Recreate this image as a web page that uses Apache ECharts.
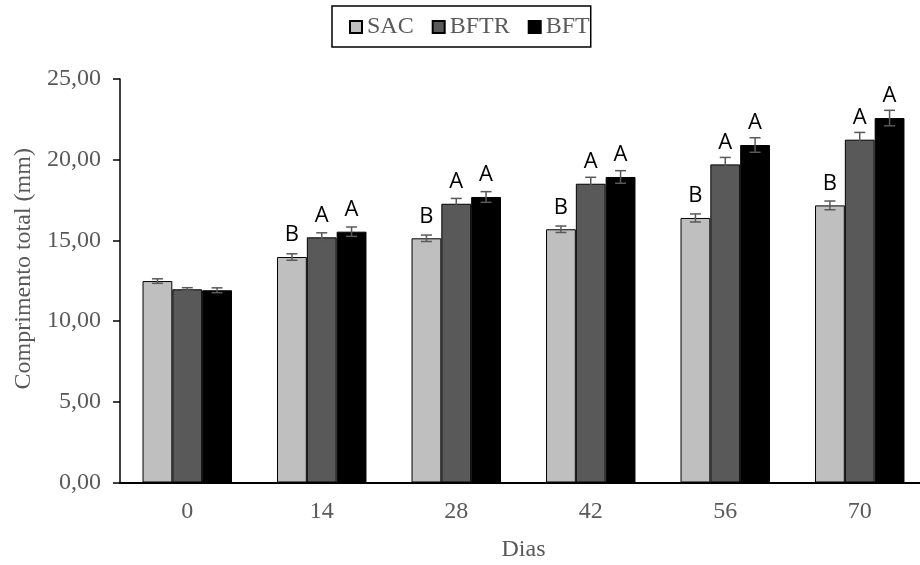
<!DOCTYPE html>
<html>
<head>
<meta charset="utf-8">
<script src="https://cdn.jsdelivr.net/npm/echarts@6/dist/echarts.min.js"></script>
<style>html,body{margin:0;padding:0;background:#fff}#c{width:920px;height:565px}</style>
</head>
<body>
<div id="c"></div>
<script>
var categories = ['0', '14', '28', '42', '56', '70'];
var seriesNames = ['SAC', 'BFTR', 'BFT'];
var sacValues = [12.48, 13.97, 15.13, 15.69, 16.39, 17.17];
var bftrValues = [11.97, 15.19, 17.27, 18.51, 19.71, 21.24];
var bftValues = [11.91, 15.54, 17.69, 18.93, 20.91, 22.58];
var sacErrors = [0.14, 0.20, 0.20, 0.20, 0.25, 0.27];
var bftrErrors = [0.10, 0.28, 0.33, 0.40, 0.43, 0.45];
var bftErrors = [0.15, 0.29, 0.33, 0.39, 0.45, 0.48];
var sacLetters = ['', 'B', 'B', 'B', 'B', 'B'];
var bftrLetters = ['', 'A', 'A', 'A', 'A', 'A'];
var bftLetters = ['', 'A', 'A', 'A', 'A', 'A'];
var yTicks = { min: 0, max: 25, interval: 5 };

var colors = ['#bfbfbf', '#595959', '#000000'];
var serif = "'Liberation Serif', 'Times New Roman', serif";
var catGap = 0.335;
var values = [sacValues, bftrValues, bftValues];
var errors = [sacErrors, bftrErrors, bftErrors];
var letters = [sacLetters, bftrLetters, bftLetters];

var series = [];
seriesNames.forEach(function (name, i) {
  series.push({
    name: name,
    type: 'bar',
    data: values[i],
    barGap: '0%',
    barCategoryGap: (catGap * 100) + '%',
    itemStyle: { color: colors[i], borderColor: '#000', borderWidth: 1 },
    label: {
      show: true,
      position: 'top',
      distance: 11,
      formatter: function (p) { return letters[i][p.dataIndex]; },
      fontFamily: "'Open Sans', 'Liberation Sans', sans-serif",
      fontSize: 22,
      color: '#000'
    },
    z: 2
  });
});
seriesNames.forEach(function (name, i) {
  series.push({
    name: name + '_err',
    type: 'custom',
    z: 5,
    data: values[i].map(function (v, k) { return [k, v, errors[i][k]]; }),
    encode: { x: 0, y: 1 },
    renderItem: function (params, api) {
      var idx = api.value(0), v = api.value(1), e = api.value(2);
      var band = api.size([1, 0])[0];
      var bw = band * (1 - catGap) / 3;
      var x = api.coord([idx, v])[0] + (i - 1) * bw;
      var yt = api.coord([idx, v + e])[1];
      var yb = api.coord([idx, v - e])[1];
      var cap = 5.5;
      var st = { stroke: '#595959', lineWidth: 1.5 };
      return {
        type: 'group',
        children: [
          { type: 'line', shape: { x1: x, y1: yt, x2: x, y2: yb }, style: st },
          { type: 'line', shape: { x1: x - cap, y1: yt, x2: x + cap, y2: yt }, style: st },
          { type: 'line', shape: { x1: x - cap, y1: yb, x2: x + cap, y2: yb }, style: st }
        ]
      };
    }
  });
});

var chart = echarts.init(document.getElementById('c'), null, { renderer: 'canvas' });
chart.setOption({
  animation: false,
  backgroundColor: '#fff',
  legend: {
    data: seriesNames,
    top: 6,
    left: 332,
    icon: 'rect',
    itemWidth: 12,
    itemHeight: 12,
    itemGap: 18,
    borderColor: '#000',
    borderWidth: 1.5,
    padding: [9, 1, 8, 17],
    textStyle: { fontFamily: serif, fontSize: 24, color: '#595959' }
  },
  grid: { left: 120, top: 79, height: 403.5, width: 807, outerBoundsMode: 'none', containLabel: false },
  xAxis: {
    type: 'category',
    data: categories,
    name: 'Dias',
    nameLocation: 'middle',
    nameGap: 55,
    nameTextStyle: { fontFamily: serif, fontSize: 24, color: '#595959' },
    axisLine: { lineStyle: { color: '#000', width: 2 } },
    axisTick: { show: false },
    axisLabel: { fontFamily: serif, fontSize: 24, color: '#595959', margin: 17 }
  },
  yAxis: {
    type: 'value',
    min: yTicks.min,
    max: yTicks.max,
    interval: yTicks.interval,
    name: 'Comprimento total (mm)',
    nameLocation: 'middle',
    nameGap: 78,
    nameTextStyle: { fontFamily: serif, fontSize: 24, color: '#595959', padding: [0, 0, 0, 24] },
    splitLine: { show: false },
    axisLine: { show: true, lineStyle: { color: '#000', width: 1.5 } },
    axisTick: { show: true, length: 7, lineStyle: { color: '#000', width: 1.5 } },
    axisLabel: {
      fontFamily: serif, fontSize: 24, color: '#595959', margin: 19,
      formatter: function (v) { return v.toFixed(2).replace('.', ','); }
    }
  },
  series: series
});
</script>
</body>
</html>
